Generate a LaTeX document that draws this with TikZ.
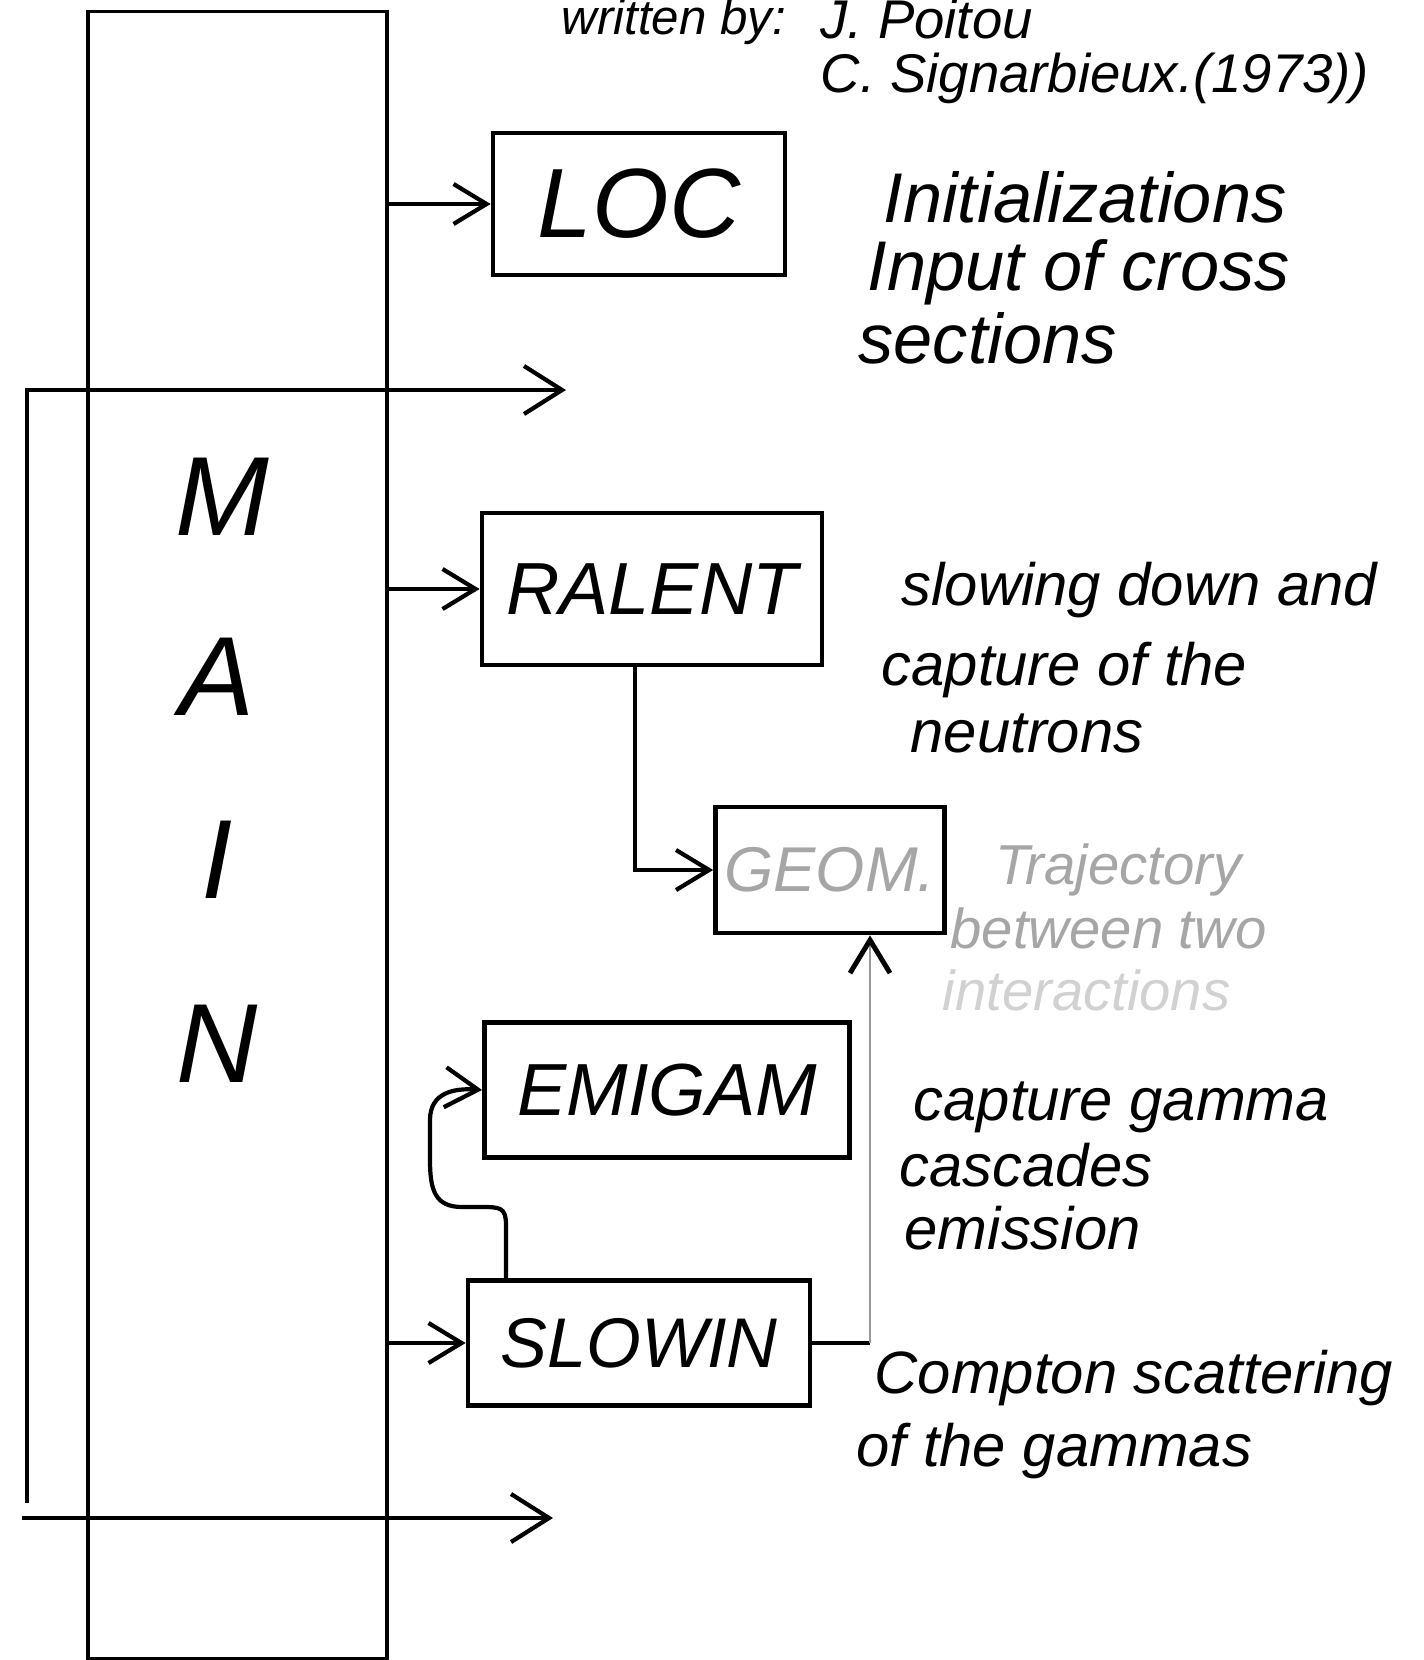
\documentclass[tikz,border=0pt]{standalone}
\usepackage{fontspec}
\setmainfont{Liberation Sans}
\usetikzlibrary{arrows.meta,positioning,calc}
\newcommand{\hand}[1]{\itshape\fontsize{#1}{#1}\selectfont}
\tikzset{
  >={Straight Barb[length=3.3mm,width=4mm]},
  routine/.style={draw=black,line width=1.3pt,inner sep=0pt},
  mainbox/.style={draw=black,line width=1.1pt},
  mainletter/.style={anchor=base,inner sep=0pt,font=\hand{32}},
  note/.style={anchor=base west,inner sep=0pt,font=\hand{17}},
  faded/.style={text=black!35},
  credit/.style={anchor=base west,inner sep=0pt,font=\hand{15.5}},
  call/.style={->,line width=1.2pt},
  cycleline/.style={-{Straight Barb[length=3.8mm,width=4.8mm]},line width=1.2pt},
  weak/.style={-{Straight Barb[length=3.3mm,width=4mm,color=black,line width=1.4pt]},line width=0.6pt,draw=black!40}
}

\begin{document}
\begin{tikzpicture}[x=0.01cm,y=-0.01cm]
  \useasboundingbox (0,0) rectangle (1424,1660);
  \node[mainbox,minimum width=2.99cm,minimum height=16.46cm] (main) at (237.5,835) {};
  \node[mainletter] (mainM) at (222,535) {M};
  \node[mainletter] (mainA) at (217,715) {A};
  \node[mainletter] (mainI) at (217,898) {I};
  \node[mainletter] (mainN) at (217,1082) {N};
  \node[routine,minimum width=2.92cm,minimum height=1.42cm,font=\hand{28}] (loc) at (639,204) {LOC};
  \node[routine,minimum width=3.40cm,minimum height=1.52cm,font=\hand{21}] (ralent) at (652,589) {RALENT};
  \node[routine,minimum width=2.29cm,minimum height=1.26cm,font=\hand{18},faded] (geom) at (830,870) {GEOM.};
  \node[routine,minimum width=3.65cm,minimum height=1.35cm,font=\hand{21}] (emigam) at (667,1090) {EMIGAM};
  \node[routine,minimum width=3.42cm,minimum height=1.25cm,font=\hand{20}] (slowin) at (639,1343) {SLOWIN};
  \node[credit,font=\hand{14}] (writtenby) at (561,34) {written by:};
  \node[credit] (author1) at (820,38) {J. Poitou};
  \node[credit] (author2) at (820,92) {C. Signarbieux.(1973))};
  \node[note,font=\hand{20}] (locnote1) at (883,222) {Initializations};
  \node[note,font=\hand{20}] (locnote2) at (867,290) {Input of cross};
  \node[note,font=\hand{20}] (locnote3) at (858,363) {sections};
  \node[note] (ralnote1) at (901,605) {slowing down and};
  \node[note] (ralnote2) at (881,685) {capture of the};
  \node[note] (ralnote3) at (910,752) {neutrons};
  \node[note,font=\hand{16},faded] (geomnote1) at (995,884) {Trajectory};
  \node[note,font=\hand{16},faded] (geomnote2) at (950,948) {between two};
  \node[note,font=\hand{16},text=black!18] (geomnote3) at (942,1010) {interactions};
  \node[note] (eminote1) at (913,1120) {capture gamma};
  \node[note] (eminote2) at (899,1186) {cascades};
  \node[note] (eminote3) at (904,1249) {emission};
  \node[note] (slonote1) at (874,1393) {Compton scattering};
  \node[note] (slonote2) at (856,1466) {of the gammas};
  \draw[call] (main.east |- loc.west) -- (loc.west);
  \draw[call] (main.east |- ralent.west) -- (ralent.west);
  \draw[call] (main.east |- slowin.west) -- (slowin.west);
  \draw[call] ([xshift=-0.17cm]ralent.south) |- (geom.west);
  \draw[call] ([xshift=-1.33cm]slowin.north) -- (506,1225) .. controls (506,1207) and (500,1207) .. (480,1207) -- (462,1207) .. controls (435,1207) and (430,1190) .. (430,1160) -- (430,1120) .. controls (430,1092) and (455,1088) .. (emigam.west);
  \coordinate (geomfoot) at ([xshift=0.4cm]geom.south);
  \draw[line width=1.3pt] (slowin.east) -- (slowin.east -| geomfoot);
  \draw[weak] (slowin.east -| geomfoot) -- (geomfoot);
  \coordinate (cyclestart) at (27,1503);
  \coordinate (cycleend) at (566,390);
  \draw[cycleline] (cyclestart) |- (cycleend);
  \coordinate (exitstart) at (22,1518);
  \coordinate (exitend) at (553,1518);
  \draw[cycleline] (exitstart) -- (exitend);
\end{tikzpicture}
\end{document}
